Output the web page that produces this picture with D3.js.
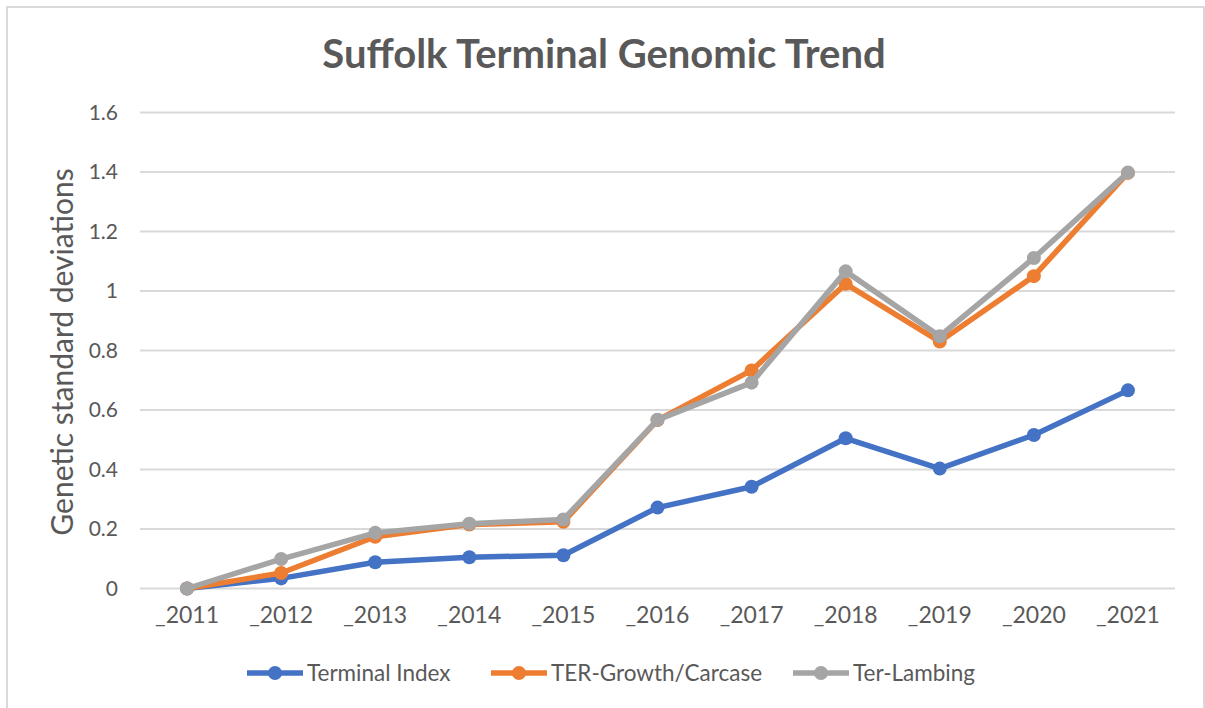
<!DOCTYPE html>
<html>
<head>
<meta charset="utf-8">
<script src="https://cdn.jsdelivr.net/npm/d3@7"></script>
<style>
  html, body { margin: 0; padding: 0; background: #fff; }
  svg { display: block; font-family: Lato, "Open Sans", sans-serif; }
</style>
</head>
<body>
<svg id="chart" width="1205" height="708"></svg>
<script>
const years = ["_2011", "_2012", "_2013", "_2014", "_2015", "_2016", "_2017", "_2018", "_2019", "_2020", "_2021"];
const terminalIndex = [0, 0.034, 0.088, 0.105, 0.112, 0.272, 0.342, 0.505, 0.403, 0.516, 0.666];
const growthCarcase = [0, 0.052, 0.174, 0.215, 0.224, 0.566, 0.733, 1.024, 0.830, 1.050, 1.397];
const terLambing = [0, 0.099, 0.187, 0.218, 0.232, 0.567, 0.692, 1.066, 0.848, 1.111, 1.398];
const yTicks = [0, 0.2, 0.4, 0.6, 0.8, 1, 1.2, 1.4, 1.6];
const seriesNames = ["Terminal Index", "TER-Growth/Carcase", "Ter-Lambing"];
const seriesColors = ["#4472C4", "#ED7D31", "#A5A5A5"];
const seriesValues = [terminalIndex, growthCarcase, terLambing];

const svg = d3.select("#chart");
const textColor = "#595959";

// outer chart border
svg.append("rect")
  .attr("x", 7).attr("y", 7)
  .attr("width", 1197).attr("height", 800)
  .attr("fill", "none").attr("stroke", "#d9d9d9").attr("stroke-width", 2);

const x = d3.scaleBand().domain(years).range([140, 1175]);
const y = d3.scaleLinear().domain([0, 1.6]).range([588.5, 112.5]);
const cx = d => x(d) + x.bandwidth() / 2;

// title
svg.append("text")
  .attr("x", 604).attr("y", 68)
  .attr("text-anchor", "middle")
  .attr("font-size", 40).attr("font-weight", "bold")
  .attr("fill", textColor)
  .text("Suffolk Terminal Genomic Trend");

// gridlines
svg.append("g").selectAll("line").data(yTicks).join("line")
  .attr("x1", 140).attr("x2", 1175)
  .attr("y1", d => y(d)).attr("y2", d => y(d))
  .attr("stroke", "#d9d9d9").attr("stroke-width", 2);

// y axis labels
const yAxis = d3.axisLeft(y).tickValues(yTicks).tickSize(0).tickPadding(0)
  .tickFormat(d => String(+d.toFixed(1)));
const yg = svg.append("g").attr("transform", "translate(118,0)").call(yAxis);
yg.select(".domain").remove();
yg.selectAll("text").attr("font-size", 21).attr("fill", textColor)
  .attr("font-family", "Lato, sans-serif");

// x axis labels
const xAxis = d3.axisBottom(x).tickSize(0).tickPadding(0);
const xg = svg.append("g").attr("transform", "translate(0,607)").call(xAxis);
xg.select(".domain").remove();
xg.selectAll("text").attr("font-size", 23).attr("fill", textColor)
  .attr("font-family", "Lato, sans-serif");

// y axis title
svg.append("text")
  .attr("transform", "translate(73,352) rotate(-90)")
  .attr("text-anchor", "middle")
  .attr("font-size", 30)
  .attr("fill", textColor)
  .text("Genetic standard deviations");

// lines
const line = d3.line().x((d, i) => cx(years[i])).y(d => y(d));
seriesValues.forEach((vals, k) => {
  const g = svg.append("g");
  g.append("path").datum(vals)
    .attr("d", line)
    .attr("fill", "none")
    .attr("stroke", seriesColors[k])
    .attr("stroke-width", 5.5)
    .attr("stroke-linejoin", "round")
    .attr("stroke-linecap", "round");
  g.selectAll("circle").data(vals).join("circle")
    .attr("cx", (d, i) => cx(years[i]))
    .attr("cy", d => y(d))
    .attr("r", 7)
    .attr("fill", seriesColors[k]);
});

// legend
const legendX = [247, 491, 793];
const legendY = 673;
seriesNames.forEach((name, k) => {
  const g = svg.append("g").attr("transform", `translate(${legendX[k]},${legendY})`);
  g.append("line").attr("x1", 0).attr("x2", 56).attr("y1", 0).attr("y2", 0)
    .attr("stroke", seriesColors[k]).attr("stroke-width", 5.5);
  g.append("circle").attr("cx", 28).attr("cy", 0).attr("r", 7).attr("fill", seriesColors[k]);
  g.append("text").attr("x", 60).attr("y", 0).attr("dy", "0.35em")
    .attr("font-size", 22.5).attr("fill", textColor)
    .text(name);
});
</script>
</body>
</html>
